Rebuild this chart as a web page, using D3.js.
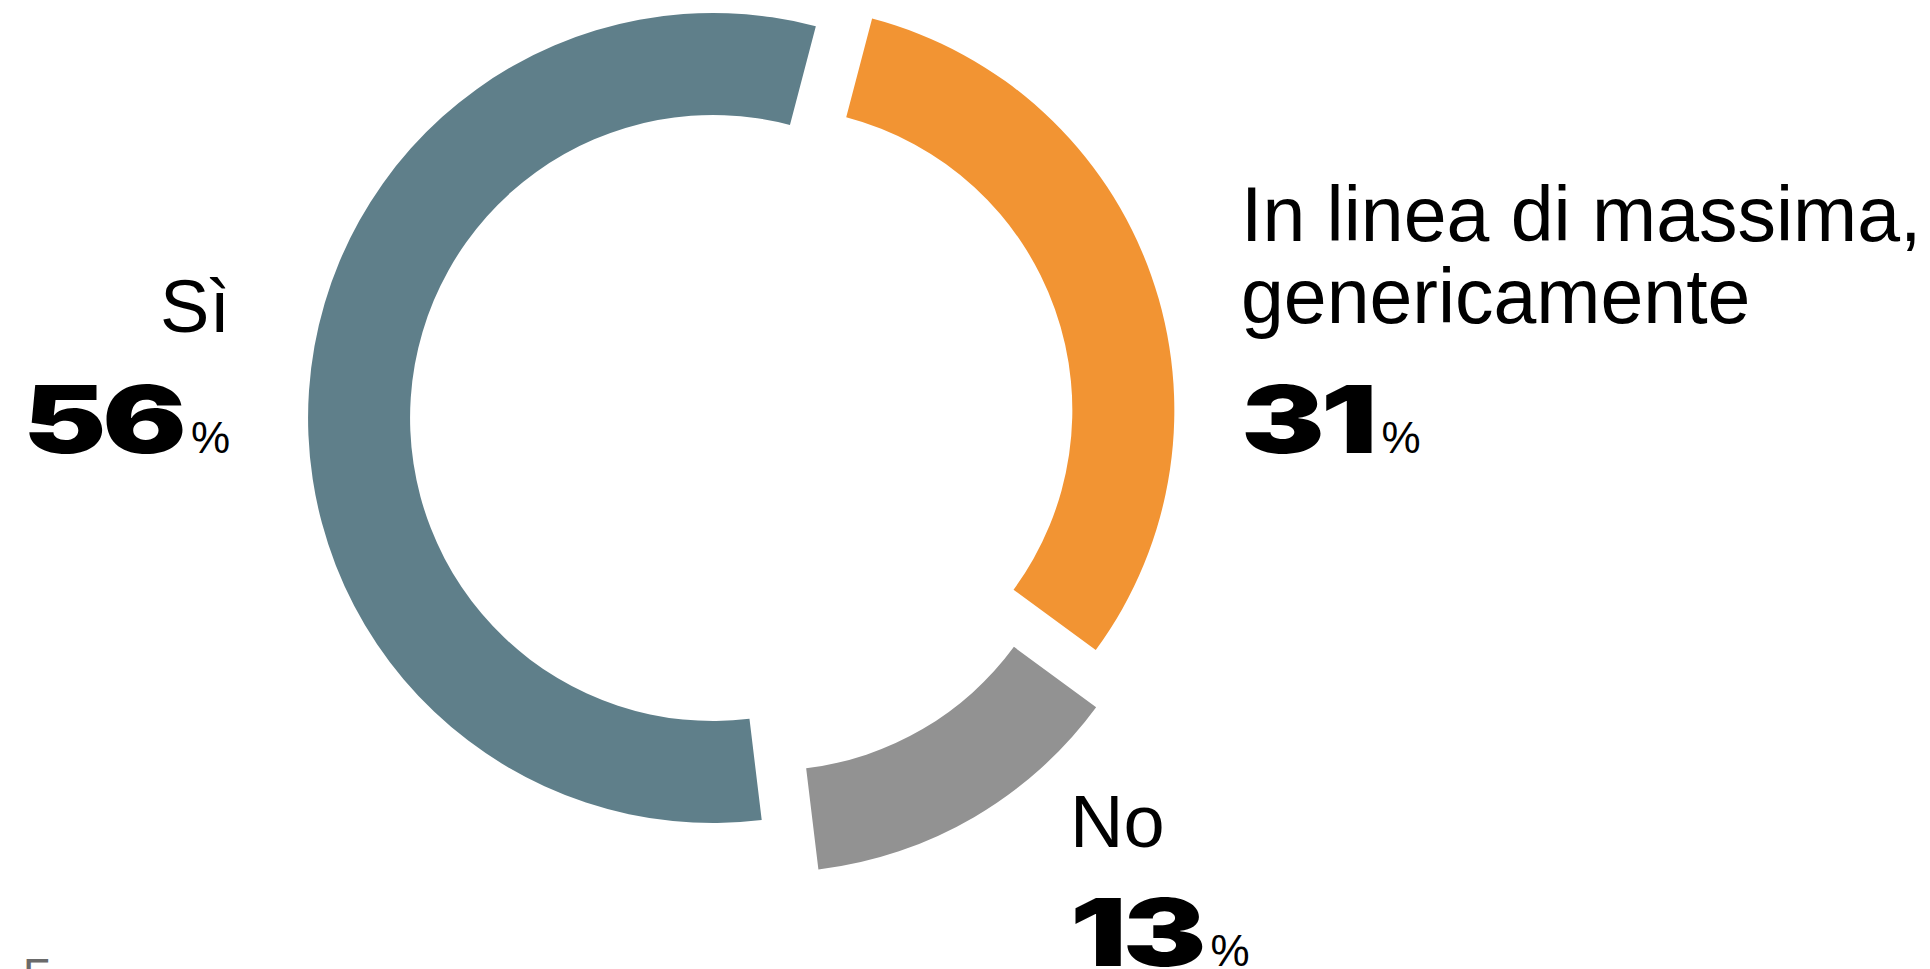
<!DOCTYPE html>
<html>
<head>
<meta charset="utf-8">
<script src="https://cdn.jsdelivr.net/npm/d3@7"></script>
<style>
  html, body { margin: 0; padding: 0; background: #fff; overflow: hidden; }
</style>
</head>
<body>
<div id="chart"></div>
<script>
// data
var categories = ["Sì", "In linea di massima, genericamente", "No"];
var values = [56, 31, 13];
var labelLines = [["Sì"], ["In linea di massima,", "genericamente"], ["No"]];
var colors = ["#5f7f8a", "#f29433", "#929292"];

var width = 1930, height = 969;
var cx = 742, cy = 420,
    outerR = 405, innerR = 303;
var explode = [29, 29, 55];   // slice offset from the center
var startDeg = 173.1;

var svg = d3.select("#chart")
  .append("svg")
    .attr("width", width)
    .attr("height", height);

var table = categories.map(function(c, i) {
  return {name: c, value: values[i], lines: labelLines[i], color: colors[i], i: i};
});

var pie = d3.pie()
    .sort(null)
    .value(function(d) { return d.value; })
    .startAngle(startDeg * Math.PI / 180)
    .endAngle(startDeg * Math.PI / 180 + 2 * Math.PI);

var arc = d3.arc()
    .innerRadius(innerR)
    .outerRadius(outerR);

var arcs = pie(table);

svg.append("g")
    .attr("transform", "translate(" + cx + "," + cy + ")")
  .selectAll("path")
  .data(arcs)
  .enter()
  .append("path")
    .attr("d", arc)
    .attr("fill", function(d) { return d.data.color; })
    .attr("transform", function(d) {
      var a = (d.startAngle + d.endAngle) / 2,
          k = explode[d.data.i];
      return "translate(" + (k * Math.sin(a)) + "," + (-k * Math.cos(a)) + ")";
    });

// label layout: anchor x, text-anchor side, baseline of first line, line step, baseline of number
var labelPos = [
  {x: 230, anchor: "end", y: 332, step: 0, ny: 453, size: 74},
  {x: 1241, anchor: "start", y: 241, step: 82, ny: 453, size: 77},
  {x: 1070, anchor: "start", y: 847, step: 0, ny: 966, size: 74}
];

var labelFont = "'Liberation Sans', Arial, Helvetica, sans-serif";
var numFont = "Inter, Roboto, Lato, 'Liberation Sans', sans-serif";

function numText(sel) {
  return sel
    .style("font-family", numFont)
    .style("font-size", "94px")
    .style("font-weight", 900)
    .style("letter-spacing", "-3px")
    .style("font-feature-settings", "'pnum' 1")
    .attr("fill", "#000");
}

// widen the heavy digits to the extended look of the original
var probe = numText(svg.append("text")).text("56");
var numScale = 160 / probe.node().getComputedTextLength();
probe.remove();

arcs.forEach(function(d, i) {
  var p = labelPos[i];
  var g = svg.append("g");

  d.data.lines.forEach(function(line, j) {
    g.append("text")
      .attr("x", p.x)
      .attr("y", p.y + j * p.step)
      .attr("text-anchor", p.anchor)
      .style("font-family", labelFont)
      .style("font-size", p.size + "px")
      .attr("fill", "#000")
      .text(line);
  });

  // big number + small percent sign
  var num = numText(g.append("text")).text(d.data.value);
  var pct = g.append("text")
      .style("font-family", labelFont)
      .style("font-size", "44px")
      .attr("fill", "#000")
      .text("%");

  var nw = num.node().getComputedTextLength() * numScale,
      pw = pct.node().getComputedTextLength(),
      gap = 8,
      x0 = p.anchor === "end" ? p.x - (nw + gap + pw) : p.x;
  num.attr("transform", "translate(" + x0 + "," + p.ny + ") scale(" + numScale + ",1)");
  pct.attr("x", x0 + nw + gap).attr("y", p.ny);
});

// source line, cut at the bottom edge
svg.append("text")
    .attr("x", 23)
    .attr("y", 990)
    .style("font-family", labelFont)
    .style("font-size", "44px")
    .attr("fill", "#6a6a6a")
    .text("F");
</script>
</body>
</html>
